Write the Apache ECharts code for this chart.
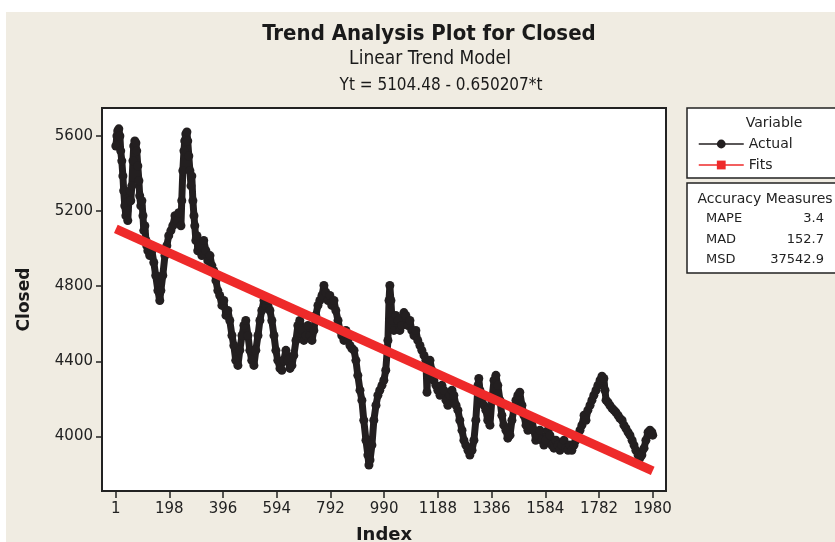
<!DOCTYPE html>
<html>
<head>
<meta charset="utf-8">
<script src="https://cdn.jsdelivr.net/npm/echarts@6/dist/echarts.min.js"></script>
<style>
html, body { margin: 0; padding: 0; background: #fff; }
#main { width: 835px; height: 542px; }
</style>
</head>
<body>
<div id="main"></div>
<script>
// 数据：收盘价（Index / Closed）
var indexValues = [1, 5, 8, 12, 16, 19, 23, 27, 30, 34, 38, 42, 45, 49, 53, 56, 60, 64, 67, 71, 75, 78, 82, 86, 89, 93, 97, 101, 104, 108, 112, 115, 119, 126, 134, 141, 148, 156, 163, 167, 174, 182, 189, 196, 204, 211, 219, 226, 233, 241, 244, 248, 252, 255, 259, 263, 266, 270, 274, 278, 281, 285, 289, 292, 296, 300, 303, 311, 318, 325, 333, 340, 348, 355, 362, 370, 377, 384, 392, 399, 407, 414, 421, 429, 436, 443, 451, 458, 466, 473, 480, 488, 495, 502, 510, 517, 525, 532, 539, 547, 554, 561, 569, 576, 584, 591, 598, 606, 613, 620, 628, 635, 643, 650, 657, 665, 672, 679, 687, 694, 702, 709, 716, 724, 731, 738, 746, 753, 761, 768, 775, 783, 790, 797, 805, 812, 820, 827, 834, 842, 849, 856, 864, 871, 879, 886, 893, 901, 908, 915, 923, 930, 934, 938, 945, 952, 960, 967, 974, 982, 989, 996, 1004, 1008, 1011, 1015, 1019, 1026, 1033, 1041, 1048, 1055, 1063, 1070, 1078, 1085, 1092, 1100, 1107, 1114, 1122, 1129, 1137, 1144, 1148, 1151, 1159, 1166, 1173, 1181, 1188, 1196, 1203, 1210, 1218, 1225, 1232, 1240, 1247, 1255, 1262, 1269, 1277, 1284, 1291, 1299, 1306, 1314, 1321, 1328, 1336, 1339, 1343, 1350, 1358, 1365, 1372, 1380, 1387, 1395, 1402, 1409, 1417, 1424, 1431, 1439, 1446, 1454, 1461, 1468, 1476, 1483, 1490, 1498, 1505, 1513, 1520, 1527, 1535, 1542, 1549, 1557, 1564, 1572, 1579, 1586, 1594, 1601, 1608, 1616, 1623, 1631, 1638, 1645, 1653, 1660, 1668, 1675, 1682, 1690, 1697, 1704, 1712, 1719, 1727, 1734, 1741, 1749, 1756, 1763, 1771, 1778, 1786, 1793, 1800, 1804, 1808, 1815, 1822, 1830, 1837, 1844, 1852, 1859, 1867, 1874, 1881, 1889, 1896, 1904, 1911, 1918, 1926, 1933, 1940, 1948, 1955, 1963, 1970, 1977, 1980];
var closedValues = [5545, 5598, 5625, 5636, 5598, 5519, 5466, 5386, 5307, 5227, 5174, 5201, 5148, 5254, 5307, 5254, 5333, 5466, 5545, 5572, 5561, 5519, 5439, 5360, 5280, 5227, 5254, 5174, 5095, 5121, 5042, 5015, 4988, 4962, 4988, 4925, 4856, 4776, 4723, 4776, 4856, 4962, 5015, 5068, 5095, 5121, 5174, 5148, 5190, 5121, 5254, 5413, 5519, 5572, 5609, 5620, 5572, 5492, 5413, 5333, 5386, 5254, 5174, 5121, 5042, 5068, 4988, 5015, 4962, 5042, 4988, 4935, 4962, 4909, 4882, 4829, 4776, 4750, 4697, 4723, 4644, 4670, 4617, 4537, 4484, 4405, 4378, 4458, 4537, 4590, 4617, 4537, 4458, 4405, 4378, 4458, 4537, 4617, 4670, 4723, 4697, 4723, 4670, 4617, 4537, 4458, 4405, 4362, 4352, 4405, 4458, 4405, 4362, 4378, 4431, 4511, 4590, 4617, 4564, 4511, 4537, 4590, 4537, 4511, 4564, 4644, 4697, 4723, 4750, 4803, 4766, 4723, 4750, 4697, 4723, 4670, 4617, 4564, 4537, 4511, 4564, 4511, 4484, 4468, 4458, 4405, 4325, 4246, 4193, 4086, 3980, 3901, 3848, 3875, 3954, 4086, 4166, 4219, 4246, 4272, 4299, 4352, 4511, 4723, 4803, 4723, 4617, 4564, 4644, 4617, 4564, 4590, 4659, 4644, 4590, 4617, 4564, 4537, 4564, 4511, 4484, 4458, 4431, 4405, 4235, 4378, 4405, 4352, 4299, 4272, 4246, 4219, 4272, 4246, 4193, 4166, 4219, 4246, 4219, 4166, 4140, 4086, 4033, 3980, 3954, 3927, 3901, 3927, 3980, 4086, 4272, 4309, 4246, 4193, 4166, 4140, 4086, 4060, 4193, 4299, 4325, 4272, 4193, 4113, 4060, 4033, 3991, 4007, 4086, 4140, 4193, 4219, 4235, 4166, 4113, 4060, 4033, 4060, 4086, 4033, 3980, 4007, 4033, 3980, 3954, 3980, 4033, 4007, 3954, 3938, 3980, 3954, 3927, 3954, 3980, 3938, 3927, 3954, 3927, 3954, 3980, 4007, 4033, 4060, 4113, 4086, 4140, 4166, 4193, 4219, 4246, 4272, 4299, 4320, 4309, 4246, 4193, 4182, 4166, 4150, 4140, 4129, 4113, 4097, 4086, 4060, 4044, 4023, 4007, 3980, 3954, 3927, 3901, 3885, 3901, 3938, 3980, 4023, 4033, 4023, 4007];

// 趋势线（Fits）两端点 Yt = 5104.48 - 0.650207*t
var fitIndex = [1, 1980];
var fitValues = [5103.83, 3817.07];

// 刻度
var xTicks = [1, 198, 396, 594, 792, 990, 1188, 1386, 1584, 1782, 1980];
var yTicks = [4000, 4400, 4800, 5200, 5600];

// 精度指标
var accuracyNames = ['MAPE', 'MAD', 'MSD'];
var accuracyValues = ['3.4', '152.7', '37542.9'];

var FONT_C = 'DejaVu Sans Condensed, DejaVu Sans, sans-serif';
var FONT = 'DejaVu Sans, sans-serif';

var actualData = indexValues.map(function (t, i) { return [t, closedValues[i]]; });
var fitData = fitIndex.map(function (t, i) { return [t, fitValues[i]]; });

var myChart = echarts.init(document.getElementById('main'));

// 右侧两个说明框
var graphics = [
    { type: 'rect', shape: { x: 0, y: 0, width: 835, height: 12 }, style: { fill: '#fff' }, silent: true },
    { type: 'rect', shape: { x: 0, y: 0, width: 6, height: 542 }, style: { fill: '#fff' }, silent: true },
    { type: 'rect', shape: { x: 687, y: 108, width: 160, height: 70 }, style: { fill: '#fff', stroke: '#222', lineWidth: 1.5 } },
    { type: 'rect', shape: { x: 687, y: 183, width: 160, height: 90 }, style: { fill: '#fff', stroke: '#222', lineWidth: 1.5 } },
    { type: 'text', x: 774, y: 123, style: { text: 'Variable', font: '14px ' + FONT, fill: '#222', align: 'center', verticalAlign: 'middle' } },
    { type: 'text', x: 765, y: 199, style: { text: 'Accuracy Measures', font: '14px ' + FONT, fill: '#222', align: 'center', verticalAlign: 'middle' } }
];
accuracyNames.forEach(function (name, i) {
    var y = 219 + i * 20.5;
    graphics.push({ type: 'text', x: 706, y: y, style: { text: name, font: '13px ' + FONT, fill: '#222', align: 'left', verticalAlign: 'middle' } });
    graphics.push({ type: 'text', x: 824, y: y, style: { text: accuracyValues[i], font: '13px ' + FONT, fill: '#222', align: 'right', verticalAlign: 'middle' } });
});

var option = {
    backgroundColor: '#F0ECE2',
    animation: false,
    title: [
        { text: 'Trend Analysis Plot for Closed', left: 424, top: 18, textAlign: 'center',
          textStyle: { fontFamily: FONT_C, fontSize: 22, fontWeight: 'bold', color: '#1a1a1a' } },
        { text: 'Linear Trend Model', left: 425, top: 45, textAlign: 'center',
          textStyle: { fontFamily: FONT_C, fontSize: 19, fontWeight: 'normal', color: '#1a1a1a' } },
        { text: 'Yt = 5104.48 - 0.650207*t', left: 436, top: 72, textAlign: 'center',
          textStyle: { fontFamily: FONT_C, fontSize: 17, fontWeight: 'normal', color: '#1a1a1a' } }
    ],
    legend: {
        orient: 'vertical',
        left: 693,
        top: 132,
        itemWidth: 45,
        itemHeight: 11,
        itemGap: 7,
        textStyle: { fontFamily: FONT, fontSize: 14, color: '#222' },
        data: [
            { name: 'Actual', lineStyle: { width: 1.5 } },
            { name: 'Fits', lineStyle: { width: 1.5 } }
        ]
    },
    graphic: graphics,
    grid: {
        left: 102, top: 108, width: 564, height: 383,
        outerBoundsMode: 'none',
        show: true, backgroundColor: '#fff', borderColor: '#222', borderWidth: 2
    },
    xAxis: {
        type: 'value',
        min: -50, max: 2029,
        name: 'Index',
        nameLocation: 'middle',
        nameGap: 35,
        nameTextStyle: { fontFamily: FONT, fontSize: 18, fontWeight: 'bold', color: '#1a1a1a' },
        axisLine: { show: true, onZero: false, lineStyle: { color: '#222', width: 2 } },
        axisTick: { show: true, length: 7, customValues: xTicks, lineStyle: { color: '#222', width: 1.5 } },
        axisLabel: { customValues: xTicks, margin: 11, fontFamily: FONT, fontSize: 15, color: '#222',
            formatter: function (v) { return String(v); } },
        splitLine: { show: false }
    },
    yAxis: {
        type: 'value',
        min: 3710, max: 5747,
        name: 'Closed',
        nameLocation: 'middle',
        nameGap: 69,
        nameTextStyle: { fontFamily: FONT, fontSize: 17, fontWeight: 'bold', color: '#1a1a1a' },
        axisLine: { show: true, onZero: false, lineStyle: { color: '#222', width: 2 } },
        axisTick: { show: true, length: 6, customValues: yTicks, lineStyle: { color: '#222', width: 1.5 } },
        axisLabel: { customValues: yTicks, margin: 9, fontFamily: FONT, fontSize: 15, color: '#222',
            formatter: function (v) { return String(v); } },
        splitLine: { show: false }
    },
    series: [
        {
            name: 'Actual',
            type: 'line',
            data: actualData,
            symbol: 'circle',
            symbolSize: 9,
            showAllSymbol: true,
            itemStyle: { color: '#231F20' },
            lineStyle: { color: '#231F20', width: 7 },
            z: 3
        },
        {
            name: 'Fits',
            type: 'line',
            data: fitData,
            symbol: 'rect',
            symbolSize: 9,
            showSymbol: false,
            itemStyle: { color: '#EE2A2A' },
            lineStyle: { color: '#EE2A2A', width: 9 },
            z: 4
        }
    ]
};

myChart.setOption(option);
</script>
</body>
</html>
